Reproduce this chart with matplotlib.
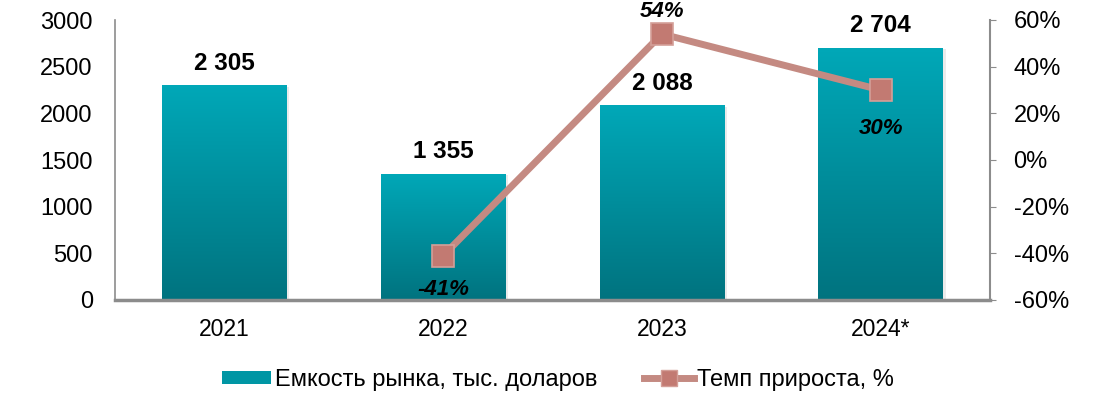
import numpy as np
import matplotlib.pyplot as plt
from matplotlib.colors import LinearSegmentedColormap
from matplotlib.lines import Line2D
from matplotlib.patches import Patch

plt.rcParams['font.family'] = ['Liberation Sans', 'DejaVu Sans']

# Данные
years = ['2021', '2022', '2023', '2024*']
capacity = [2305, 1355, 2088, 2704]
cap_labels = ['2 305', '1 355', '2 088', '2 704']
growth = [np.nan, -41, 54, 30]

axis_gray = '#8c8c8c'
line_col = '#c48a82'
marker_col = '#c27a72'
teal_top = '#00a8b8'
teal_bot = '#00737f'

fig = plt.figure(figsize=(11.01, 4.03), dpi=100)
ax = fig.add_axes([115 / 1101, 1 - 300 / 403, 875 / 1101, 280 / 403])
ax2 = ax.twinx()

x = np.arange(len(years))
bars = ax.bar(x, capacity, width=0.57, color='none', zorder=2)

# Градиент для столбиков
cmap = LinearSegmentedColormap.from_list('teal', [teal_bot, teal_top])
grad = np.linspace(0, 1, 256).reshape(-1, 1)
for b in bars:
    bx, by = b.get_x(), b.get_y()
    w, h = b.get_width(), b.get_height()
    # тень
    ax.bar(bx + w / 2 + 0.012, h, width=w, bottom=-20, color='#000000', alpha=0.08, zorder=1)
    im = ax.imshow(grad, extent=[bx, bx + w, by, by + h], origin='lower', cmap=cmap,
                   aspect='auto', zorder=2)
    im.set_clip_path(b)

for xi, v, lab in zip(x, capacity, cap_labels):
    ax.text(xi, v + 110, lab, ha='center', va='bottom', fontsize=17.5, fontweight='bold')

ax.set_xlim(-0.5, 3.5)
ax.set_ylim(0, 3000)
ax.set_yticks(range(0, 3001, 500))
ax.set_xticks(x)
ax.set_xticklabels(years)
ax.tick_params(axis='y', length=0, labelsize=17, pad=16)
ax.tick_params(axis='x', length=0, labelsize=16.5, pad=13)
for s in ['top', 'right']:
    ax.spines[s].set_visible(False)
ax.spines['left'].set_color(axis_gray)
ax.spines['bottom'].set_color(axis_gray)
ax.spines['left'].set_linewidth(1.2)
ax.spines['bottom'].set_linewidth(2.5)

# Темп прироста
ax2.plot(x, growth, color=line_col, lw=5, marker='s', markersize=16,
         markerfacecolor=marker_col, markeredgecolor='#d49f98', markeredgewidth=1.2, zorder=5)
ax2.set_ylim(-60, 60)
ax2.set_yticks(range(-60, 61, 20))
ax2.set_yticklabels([f'{t}%' for t in range(-60, 61, 20)])
ax2.tick_params(axis='y', length=4, color=axis_gray, labelsize=17, pad=13)
for s in ['top', 'left', 'bottom']:
    ax2.spines[s].set_visible(False)
ax2.spines['right'].set_color(axis_gray)
ax2.spines['right'].set_linewidth(1.5)

offsets = {1: -14.7, 2: 9.8, 3: -16.7}
for i, off in offsets.items():
    ax2.text(x[i], growth[i] + off, f'{growth[i]}%', ha='center', va='center',
             fontsize=16, fontweight='bold', fontstyle='italic')

handles = [Patch(facecolor='#0096a4', edgecolor='none'),
           Line2D([0], [0], color=line_col, lw=5, marker='s', markersize=11,
                  markerfacecolor=marker_col, markeredgecolor='#d49f98')]
fig.legend(handles, ['Емкость рынка, тыс. доларов', 'Темп прироста, %'],
           loc='center', bbox_to_anchor=(558 / 1101, 1 - 380 / 403), ncol=2, frameon=False,
           fontsize=17, handlelength=2.1, handleheight=0.5, handletextpad=0.15,
           columnspacing=2.0)

fig.savefig('out.png', dpi=100)
